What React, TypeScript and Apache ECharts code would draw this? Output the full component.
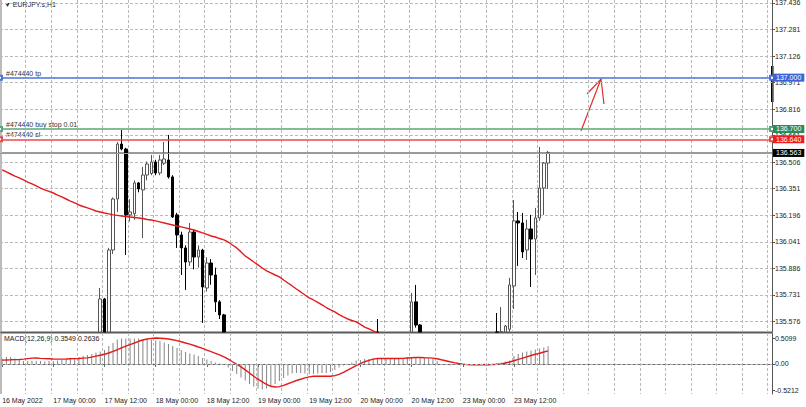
import React, { useEffect, useRef } from "react";
import * as echarts from "echarts";

const FONT = "Liberation Sans";

const timeLabels = [
  "16 May 2022", "17 May 00:00", "17 May 12:00", "18 May 00:00", "18 May 12:00",
  "19 May 00:00", "19 May 12:00", "20 May 00:00", "20 May 12:00", "23 May 00:00", "23 May 12:00",
];
const priceTicks = [135.576, 135.731, 135.886, 136.041, 136.196, 136.351, 136.506, 136.661, 136.816, 136.971, 137.126, 137.281, 137.436];
const macdTicks = [-0.5212, 0, 0.5099];

// [barIndex, open, close, low, high]
const candles: number[][] = [
  [23, 135.42, 135.707, 135.40, 135.771],
  [24, 135.707, 135.45, 135.40, 135.713],
  [25, 135.45, 135.993, 135.40, 136.005],
  [26, 135.993, 136.291, 135.97, 136.30],
  [27, 136.291, 136.612, 136.215, 136.624],
  [28, 136.612, 136.583, 136.575, 136.694],
  [29, 136.583, 136.198, 135.964, 136.59],
  [30, 136.198, 136.215, 136.16, 136.29],
  [31, 136.205, 136.385, 136.17, 136.40],
  [32, 136.385, 136.350, 136.33, 136.39],
  [33, 136.344, 136.431, 136.063, 136.478],
  [34, 136.431, 136.495, 136.40, 136.51],
  [35, 136.44, 136.507, 136.43, 136.548],
  [36, 136.507, 136.443, 136.43, 136.52],
  [37, 136.443, 136.519, 136.43, 136.548],
  [38, 136.50, 136.525, 136.49, 136.624],
  [39, 136.519, 136.420, 136.41, 136.665],
  [40, 136.420, 136.186, 136.18, 136.43],
  [41, 136.198, 136.081, 136.005, 136.21],
  [42, 136.081, 136.005, 135.847, 136.10],
  [43, 136.005, 135.923, 135.760, 136.02],
  [44, 135.923, 136.098, 135.90, 136.151],
  [45, 136.098, 135.952, 135.88, 136.11],
  [46, 135.952, 135.993, 135.89, 136.02],
  [47, 135.993, 135.777, 135.567, 136.00],
  [48, 135.771, 135.917, 135.75, 135.95],
  [49, 135.917, 135.847, 135.79, 135.94],
  [50, 135.847, 135.690, 135.631, 135.89],
  [51, 135.690, 135.614, 135.59, 135.70],
  [52, 135.614, 135.45, 135.40, 135.62],
  [88, 135.45, 135.48, 135.40, 135.590],
  [96, 135.45, 135.690, 135.40, 135.742],
  [97, 135.690, 135.555, 135.54, 135.789],
  [98, 135.555, 135.45, 135.40, 135.56],
  [116, 135.45, 135.48, 135.40, 135.625],
  [117, 135.48, 135.47, 135.40, 135.660],
  [118, 135.45, 135.549, 135.40, 135.555],
  [119, 135.53, 135.789, 135.50, 135.830],
  [120, 135.783, 136.163, 135.648, 136.285],
  [121, 136.163, 136.151, 135.900, 136.215],
  [122, 136.151, 135.982, 135.946, 136.209],
  [123, 135.993, 136.116, 135.935, 136.17],
  [124, 136.116, 136.057, 135.777, 136.198],
  [125, 136.057, 136.180, 135.847, 136.239],
  [126, 136.180, 136.355, 136.163, 136.595],
  [127, 136.355, 136.501, 136.198, 136.507],
  [128, 136.501, 136.563, 136.350, 136.572],
];

// moving average, bars 0..90
const maValues = [
  136.461, 136.449, 136.437, 136.425, 136.414, 136.402, 136.390, 136.379, 136.367, 136.355,
  136.344, 136.335, 136.326, 136.314, 136.303, 136.291, 136.279, 136.268, 136.256, 136.247,
  136.239, 136.230, 136.221, 136.215, 136.209, 136.204, 136.198, 136.195, 136.192, 136.189,
  136.186, 136.183, 136.180, 136.177, 136.171, 136.168, 136.163, 136.157, 136.151, 136.145,
  136.139, 136.133, 136.128, 136.122, 136.116, 136.110, 136.101, 136.093, 136.084, 136.075,
  136.069, 136.060, 136.052, 136.040, 136.022, 136.005, 135.982, 135.958, 135.941, 135.923,
  135.906, 135.888, 135.871, 135.859, 135.847, 135.836, 135.818, 135.800, 135.783, 135.765,
  135.748, 135.730, 135.713, 135.701, 135.687, 135.672, 135.657, 135.643, 135.631, 135.616,
  135.602, 135.590, 135.581, 135.573, 135.558, 135.543, 135.532, 135.520, 135.508, 135.494,
  135.479,
];

const macdHist = [
  0.11, 0.14, 0.14, 0.11, 0.08, 0.06, 0.06, 0.06, 0.06, 0.06,
  0.05, 0.06, 0.06, 0.07, 0.08, 0.09, 0.11, 0.12, 0.14, 0.16,
  0.18, 0.20, 0.23, 0.25, 0.28, 0.36, 0.42, 0.49, 0.51, 0.51,
  0.51, 0.51, 0.51, 0.50, 0.49, 0.49, 0.47, 0.46, 0.43, 0.40,
  0.36, 0.32, 0.28, 0.24, 0.21, 0.19, 0.16, 0.12, 0.09, 0.06,
  0.03, 0.01, -0.02, -0.07, -0.14, -0.20, -0.27, -0.33, -0.40, -0.45,
  -0.49, -0.51, -0.49, -0.45, -0.40, -0.34, -0.28, -0.23, -0.19, -0.18,
  -0.18, -0.19, -0.20, -0.20, -0.19, -0.18, -0.18, -0.16, -0.12, -0.07,
  -0.03, 0.00, 0.03, 0.07, 0.08, 0.10, 0.10, 0.11, 0.11, 0.11,
  0.11, 0.10, 0.10, 0.11, 0.12, 0.14, 0.14, 0.14, 0.14, 0.12,
  0.11, 0.10, 0.06, -0.01, -0.02, -0.03, -0.02, -0.01, -0.01, -0.01,
  -0.01, 0, 0, 0.01, 0.01, 0.01, 0.02, 0.03, 0.05, 0.07,
  0.16, 0.20, 0.23, 0.25, 0.27, 0.29, 0.31, 0.33, 0.3549,
];

const macdSignal = [
  0.078, 0.081, 0.084, 0.088, 0.091, 0.097, 0.107, 0.117, 0.12, 0.113,
  0.107, 0.104, 0.10, 0.097, 0.097, 0.10, 0.104, 0.107, 0.11, 0.117,
  0.123, 0.136, 0.156, 0.175, 0.195, 0.22, 0.253, 0.285, 0.324, 0.357,
  0.389, 0.42, 0.454, 0.48, 0.50, 0.512, 0.519, 0.516, 0.509, 0.50,
  0.486, 0.467, 0.444, 0.42, 0.396, 0.37, 0.34, 0.311, 0.279, 0.246,
  0.214, 0.182, 0.143, 0.097, 0.045, -0.006, -0.058, -0.117, -0.182, -0.246,
  -0.305, -0.357, -0.409, -0.447, -0.46, -0.454, -0.428, -0.396, -0.363, -0.331,
  -0.305, -0.279, -0.259, -0.246, -0.246, -0.246, -0.246, -0.246, -0.233, -0.208,
  -0.169, -0.123, -0.078, -0.032, 0.006, 0.045, 0.071, 0.097, 0.11, 0.11,
  0.11, 0.11, 0.11, 0.11, 0.113, 0.12, 0.126, 0.13, 0.13, 0.126,
  0.123, 0.117, 0.104, 0.084, 0.065, 0.045, 0.026, 0.01, -0.003, -0.013,
  -0.019, -0.019, -0.019, -0.019, -0.016, -0.013, -0.006, 0.003, 0.019, 0.039,
  0.065, 0.091, 0.117, 0.143, 0.169, 0.195, 0.214, 0.24, 0.2636,
];

const tradeLevels = [
  { value: 137.0, name: "#474440 tp", line: "#4f72dc", box: "#3c64d8" },
  { value: 136.7, name: "#474440 buy stop 0.01", line: "#5aa57a", box: "#2f8a5a" },
  { value: 136.64, name: "#474440 sl", line: "#e84a4a", box: "#ee1c1c" },
];
const lastPrice = 136.563;

const Y_MIN = 135.514;
const Y_MAX = 137.4535;
const BAR_COUNT = 181;
const MONTHS = ["Jan", "Feb", "Mar", "Apr", "May", "Jun", "Jul", "Aug", "Sep", "Oct", "Nov", "Dec"];

function buildCategories(n: number): string[] {
  const out: string[] = [];
  let t = Date.UTC(2022, 4, 16, 12);
  while (out.length < n) {
    const d = new Date(t);
    const wd = d.getUTCDay();
    if (wd !== 0 && wd !== 6) {
      const hh = String(d.getUTCHours()).padStart(2, "0");
      out.push(`${d.getUTCDate()} ${MONTHS[d.getUTCMonth()]} ${hh}:00`);
    }
    t += 3600000;
  }
  return out;
}

const clampY = (v: number) => Math.min(Y_MAX, Math.max(Y_MIN, v));

export default function App() {
  const ref = useRef<HTMLDivElement>(null);

  useEffect(() => {
    const el = ref.current;
    if (!el) return;
    const chart = echarts.init(el, undefined, { renderer: "svg" });
    const categories = buildCategories(BAR_COUNT);

    // candles are cut at the pane's lower edge, as in the terminal
    const candleData: any[] = new Array(BAR_COUNT).fill("-");
    candles.forEach(([i, o, c, l, h]) => {
      candleData[i] = [clampY(o), clampY(c), clampY(l), clampY(h)];
    });
    const maData: any[] = new Array(BAR_COUNT).fill("-");
    maValues.forEach((v, i) => (maData[i] = v));
    const histData: any[] = new Array(BAR_COUNT).fill("-");
    macdHist.forEach((v, i) => (histData[i] = v));
    const sigData: any[] = new Array(BAR_COUNT).fill("-");
    macdSignal.forEach((v, i) => (sigData[i] = v));
    const emptyData: any[] = new Array(BAR_COUNT).fill("-");

    const grid6 = (i: number) => i % 6 === 0;
    const label12 = (i: number) => i % 12 === 0 && i / 12 < timeLabels.length;
    const dashed = { color: "#b9b9b9", type: [3, 2] as any, width: 1 };
    const txt = { fontFamily: FONT, fontSize: 7, color: "#222" };

    const levelLines: any[] = tradeLevels.map((lv) => ({
      yAxis: lv.value,
      itemStyle: { color: lv.line },
      lineStyle: { color: lv.line, width: 1.5, type: "solid", opacity: 1 },
      label: {
        show: true, position: "end", formatter: lv.value.toFixed(3),
        backgroundColor: lv.box, color: "#fff", padding: [1, 3, 0, 3],
        fontFamily: FONT, fontSize: 7, distance: 1,
      },
    }));
    const priceLine = [{
      yAxis: lastPrice,
      lineStyle: { color: "#9a9a9a", width: 1, type: "solid", opacity: 1 },
      label: {
        show: true, position: "end", formatter: lastPrice.toFixed(3),
        backgroundColor: "#000", color: "#fff", padding: [1, 3, 0, 3],
        fontFamily: FONT, fontSize: 7, distance: 1,
      },
    }];

    const baseGraphic: any[] = [
      { type: "text", id: "title", x: 4, y: 1, style: { text: "▼ EURJPY.s,H1", fontFamily: FONT, fontSize: 7, fill: "#222" } },
      { type: "text", id: "macdlbl", x: 4, y: 335, style: { text: "MACD(12,26,9) 0.3549 0.2636", fontFamily: FONT, fontSize: 7, fill: "#222" } },
      { type: "line", id: "sep", shape: { x1: 0, y1: 332.5, x2: 772, y2: 332.5 }, style: { stroke: "#5a5a5a", lineWidth: 2 } },
      { type: "line", id: "leftb", shape: { x1: 1, y1: 0, x2: 1, y2: 394 }, style: { stroke: "#7a7a7a", lineWidth: 1 } },
      { type: "rect", id: "shift", shape: { x: 771, y: 66, width: 2.5, height: 36 }, style: { fill: "#000" } },
      { type: "polyline", id: "arr1", shape: { points: [[581, 131], [601, 79]] }, style: { stroke: "#e52b2b", lineWidth: 1.2, fill: null } },
      { type: "polyline", id: "arr2", shape: { points: [[587, 94], [601, 79], [604, 104]] }, style: { stroke: "#e52b2b", lineWidth: 1.2, fill: null } },
    ];

    const option: any = {
      animation: false,
      backgroundColor: "#ffffff",
      grid: [
        { left: 0, top: 0, width: 772, height: 332, containLabel: false, outerBoundsMode: "none" },
        { left: 0, top: 333, width: 772, height: 61, containLabel: false, outerBoundsMode: "none" },
      ],
      xAxis: [
        {
          type: "category", gridIndex: 0, data: categories, boundaryGap: true,
          axisLine: { show: false }, axisTick: { show: false }, axisLabel: { show: false },
          splitLine: { show: true, interval: grid6, lineStyle: dashed },
        },
        {
          type: "category", gridIndex: 1, data: categories, boundaryGap: true,
          axisLine: { show: true, lineStyle: { color: "#666", width: 1 } },
          axisTick: { show: true, interval: label12, alignWithLabel: true, length: 3, lineStyle: { color: "#666" } },
          axisLabel: {
            show: true, interval: label12, align: "left", margin: 3, ...txt,
            formatter: (_v: string, i: number) => timeLabels[i / 12] ?? "",
          },
          splitLine: { show: true, interval: grid6, lineStyle: dashed },
        },
      ],
      yAxis: [
        {
          type: "value", gridIndex: 0, position: "right", min: Y_MIN, max: Y_MAX,
          axisLine: { show: true, lineStyle: { color: "#555", width: 1 } },
          axisTick: { show: true, length: 3, customValues: priceTicks, lineStyle: { color: "#555" } },
          axisLabel: { show: true, customValues: priceTicks, margin: 3, ...txt, formatter: (v: number) => v.toFixed(3) },
          splitLine: { show: true, lineStyle: dashed },
        },
        {
          type: "value", gridIndex: 1, position: "right", min: -0.601, max: 0.62,
          axisLine: { show: true, lineStyle: { color: "#555", width: 1 } },
          axisTick: { show: true, length: 3, customValues: macdTicks, lineStyle: { color: "#555" } },
          axisLabel: {
            show: true, customValues: macdTicks, margin: 3, ...txt,
            formatter: (v: number) => (v === 0 ? "0.00" : v.toFixed(4)),
          },
          splitLine: { show: false },
        },
      ],
      series: [
        {
          type: "candlestick", xAxisIndex: 0, yAxisIndex: 0, data: candleData,
          barWidth: 3, z: 2,
          itemStyle: { color: "#ffffff", color0: "#000000", borderColor: "#555555", borderColor0: "#000000", borderWidth: 1 },
        },
        {
          type: "line", xAxisIndex: 0, yAxisIndex: 0, data: maData, symbol: "none",
          lineStyle: { color: "#e31b1b", width: 1.4 }, z: 3,
          markLine: { silent: true, animation: false, symbol: ["none", "none"], data: priceLine },
        },
        {
          name: "levels", type: "line", xAxisIndex: 0, yAxisIndex: 0, data: emptyData, symbol: "none",
          lineStyle: { width: 0 }, z: 5,
          markLine: {
            silent: true, animation: false, symbol: ["emptyRect", "emptyRect"], symbolSize: 4,
            data: levelLines,
          },
        },
        {
          type: "bar", xAxisIndex: 1, yAxisIndex: 1, data: histData, barWidth: 1,
          itemStyle: { color: "#858585" },
          markLine: {
            silent: true, symbol: ["none", "none"], label: { show: false },
            lineStyle: { color: "#b0b0b0", type: [3, 2], width: 1 },
            data: [{ yAxis: 0 }],
          },
        },
        {
          type: "line", xAxisIndex: 1, yAxisIndex: 1, data: sigData, symbol: "none",
          lineStyle: { color: "#e31b1b", width: 1.4 }, z: 3,
        },
      ],
      graphic: baseGraphic,
    };

    chart.setOption(option);

    // trade names sit just above their level lines at the left edge
    const nameTexts: any[] = tradeLevels.map((lv, k) => {
      const y = chart.convertToPixel({ yAxisIndex: 0 } as any, lv.value) as number;
      return {
        type: "text", id: "name" + k, x: 6, y: y - 1,
        style: { text: lv.name, fontFamily: FONT, fontSize: 7, fill: "#333", verticalAlign: "bottom", textVerticalAlign: "bottom" },
      };
    });
    // bid line, placed through the price scale
    const yp = Math.round(chart.convertToPixel({ yAxisIndex: 0 } as any, lastPrice) as number) + 0.5;
    nameTexts.push({
      type: "line", id: "bidline", z: 1,
      shape: { x1: 2, y1: yp, x2: 772, y2: yp },
      style: { stroke: "#9a9a9a", lineWidth: 1 },
    });
    chart.setOption({ graphic: [...baseGraphic, ...nameTexts] });

    return () => {
      chart.dispose();
    };
  }, []);

  return (
    <div
      ref={ref}
      style={{ position: "fixed", left: 0, top: 0, width: 806, height: 407, background: "#fff" }}
    />
  );
}
